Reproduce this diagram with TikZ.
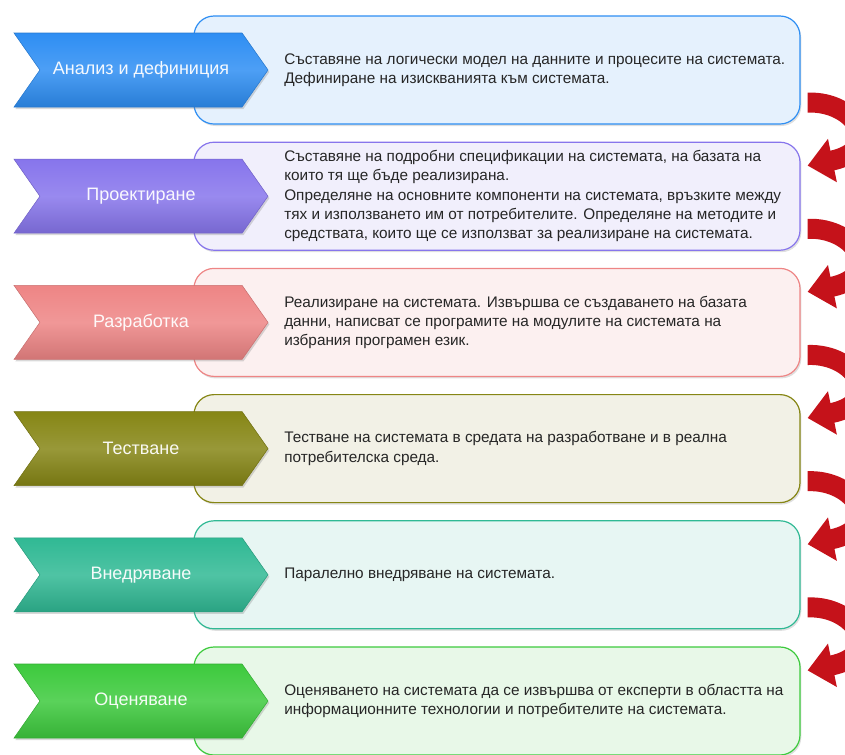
\documentclass[tikz,border=0pt]{standalone}
\usepackage{fontspec}
\setmainfont{Liberation Sans}
\usetikzlibrary{arrows.meta, shapes.symbols, shadows}
\definecolor{azul}{HTML}{2E8EF3}
\definecolor{azulc}{HTML}{E5F1FD}
\definecolor{lila}{HTML}{8775EC}
\definecolor{lilac}{HTML}{F1EFFC}
\definecolor{rosa}{HTML}{EE8585}
\definecolor{rosac}{HTML}{FCF0F0}
\definecolor{oliva}{HTML}{868615}
\definecolor{olivac}{HTML}{F2F1E6}
\definecolor{menta}{HTML}{30B994}
\definecolor{mentac}{HTML}{E7F6F3}
\definecolor{verde}{HTML}{3DCA3D}
\definecolor{verdec}{HTML}{E8F8E8}
\definecolor{rojo}{HTML}{C5121A}

\begin{document}
\begin{tikzpicture}[x=0.75pt, y=-0.75pt,
      stage/.style={signal, signal from=west, signal to=east, signal pointer angle=110,
        minimum width=190.5pt, minimum height=55.5pt, inner sep=0pt, draw=#1!85!black,
        top color=#1, bottom color=#1!88!black, middle color=#1!85!white,
        drop shadow={opacity=0.3, shadow xshift=1pt, shadow yshift=-1.5pt},
        text=white!95!#1, font=\fontsize{13.5}{16}\selectfont},
      panel/.style={draw=#1, fill=#1c, rounded corners=15pt, line width=0.9pt,
        minimum width=454.5pt, minimum height=81pt,
        drop shadow={opacity=0.25, shadow xshift=1pt, shadow yshift=-1.5pt}},
      desc/.style={anchor=west, align=left, inner sep=0pt, text=black!85,
        font=\fontsize{11.5}{14.5}\selectfont},
      turn/.style={draw=rojo, line width=15pt,
        -{Triangle[width=32pt, length=19pt]}}]
    \useasboundingbox (0,0) rectangle (845,754);
    \clip (0,0) rectangle (845,754);

    \node[panel=azul] (p1) at (497,70) {};
    \node[stage=azul] (e1) at (141,70) {Анализ и дефиниция};
    \node[desc] (d1) at (284,70) {Съставяне на логически модел на данните и процесите на системата.\\
      Дефиниране на изискванията към системата.};

    \node[panel=lila] (p2) at (497,196.2) {};
    \node[stage=lila] (e2) at (141,196.2) {Проектиране};
    \node[desc] (d2) at (284,196.2) {Съставяне на подробни спецификации на системата, на базата на\\
      които тя ще бъде реализирана.\\
      Определяне на основните компоненти на системата, връзките между\\
      тях и използването им от потребителите. Определяне на методите и\\
      средствата, които ще се използват за реализиране на системата.};

    \node[panel=rosa] (p3) at (497,322.4) {};
    \node[stage=rosa] (e3) at (141,322.4) {Разработка};
    \node[desc] (d3) at (284,322.4) {Реализиране на системата. Извършва се създаването на базата\\
      данни, написват се програмите на модулите на системата на\\
      избрания програмен език.};

    \node[panel=oliva] (p4) at (497,448.6) {};
    \node[stage=oliva] (e4) at (141,448.6) {Тестване};
    \node[desc] (d4) at (284,448.6) {Тестване на системата в средата на разработване и в реална\\
      потребителска среда.};

    \node[panel=menta] (p5) at (497,574.8) {};
    \node[stage=menta] (e5) at (141,574.8) {Внедряване};
    \node[desc] (d5) at (284,574.8) {Паралелно внедряване на системата.};

    \node[panel=verde] (p6) at (497,701) {};
    \node[stage=verde] (e6) at (141,701) {Оценяване};
    \node[desc] (d6) at (284,701) {Оценяването на системата да се извършва от експерти в областта на\\
      информационните технологии и потребителите на системата.};

    % curved arrows between the stages
    \foreach \a/\b in {1/2, 2/3, 3/4, 4/5, 5/6}
      \draw[turn] ([shift={(7,-22)}]p\a.south east) .. controls +(48,-2) and +(78,-16) .. ([shift={(7,24)}]p\b.north east);
  \end{tikzpicture}
\end{document}
